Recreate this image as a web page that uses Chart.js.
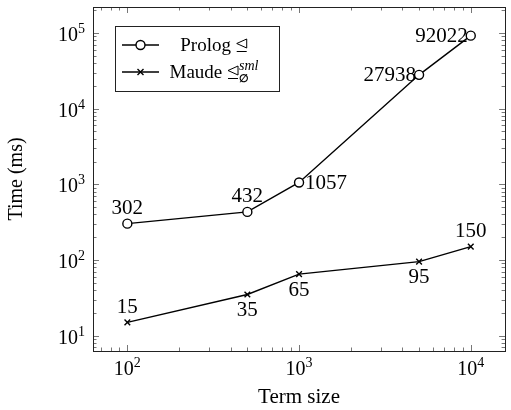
<!DOCTYPE html>
<html lang="en">
<head>
  <meta charset="UTF-8">
  <title>Term size vs time</title>
  <script src="https://cdn.jsdelivr.net/npm/chart.js"></script>
  <style>
    body { margin: 0; background: #fff; }
    #wrap { width: 511px; height: 410px; }
  </style>
</head>
<body>
  <div id="wrap"><canvas id="timeChart"></canvas></div>
  <script>
    // values
    const termSizes = [100, 500, 1000, 5000, 10000];
    const prologTimes = [302, 432, 1057, 27938, 92022];
    const maudeTimes = [15, 35, 65, 95, 150];

    const serif = "'Liberation Serif', 'DejaVu Serif', serif";

    // pgfplots style 10% enlargement in log space
    const allTimes = prologTimes.concat(maudeTimes);
    const lyMin = Math.log10(Math.min(...allTimes));
    const lyMax = Math.log10(Math.max(...allTimes));
    const yPad = (lyMax - lyMin) * 0.1;
    const lxMin = Math.log10(termSizes[0]);
    const lxMax = Math.log10(termSizes[termSizes.length - 1]);
    const xPad = (lxMax - lxMin) * 0.1;

    function isPow10(v) {
      const l = Math.log10(v);
      return Math.abs(l - Math.round(l)) < 1e-9;
    }

    // where each value label sits relative to its point
    const labelSides = [
      ['above', 'above', 'right', 'left', 'left'],
      ['above', 'below', 'below', 'below', 'above']
    ];

    const valueLabels = {
      id: 'valueLabels',
      afterDatasetsDraw(chart) {
        const ctx = chart.ctx;
        ctx.save();
        ctx.font = '21px ' + serif;
        ctx.fillStyle = '#000';
        ctx.textBaseline = 'middle';
        chart.data.datasets.forEach((ds, i) => {
          chart.getDatasetMeta(i).data.forEach((pt, j) => {
            const text = String(ds.data[j].y);
            const side = labelSides[i][j];
            if (side === 'above') {
              ctx.textAlign = 'center';
              ctx.fillText(text, pt.x, pt.y - 15);
            } else if (side === 'below') {
              ctx.textAlign = 'center';
              ctx.fillText(text, pt.x, pt.y + 16);
            } else if (side === 'right') {
              ctx.textAlign = 'left';
              ctx.fillText(text, pt.x + 6, pt.y + 1);
            } else {
              ctx.textAlign = 'right';
              ctx.fillText(text, pt.x - 3, pt.y + 1);
            }
          });
        });
        ctx.restore();
      }
    };

    // 10 with a raised exponent, drawn at the scale's major tick pixels
    function drawPow(ctx, e, x, y, align) {
      ctx.font = '20px ' + serif;
      const w1 = ctx.measureText('10').width;
      ctx.font = '14px ' + serif;
      const w2 = ctx.measureText(String(e)).width;
      let left = x;
      if (align === 'center') left = x - (w1 + w2) / 2;
      if (align === 'right') left = x - (w1 + w2);
      ctx.textAlign = 'left';
      ctx.textBaseline = 'alphabetic';
      ctx.font = '20px ' + serif;
      ctx.fillText('10', left, y);
      ctx.font = '14px ' + serif;
      ctx.fillText(String(e), left + w1, y - 8);
    }

    // box around the plot with inward ticks on all four sides, plus tick labels
    const frameTicks = {
      id: 'frameTicks',
      beforeDatasetsDraw(chart) {
        const ctx = chart.ctx;
        const a = chart.chartArea;
        const xs = chart.scales.x, ys = chart.scales.y;
        ctx.save();
        ctx.strokeStyle = '#777';
        ctx.lineWidth = 1;
        ctx.beginPath();
        for (let e = 0; e <= 6; e++) {
          for (let m = 1; m <= 9; m++) {
            const v = m * Math.pow(10, e);
            const len = m === 1 ? 6 : 3.5;
            if (v >= xs.min && v <= xs.max) {
              const px = Math.round(xs.getPixelForValue(v)) + 0.5;
              ctx.moveTo(px, a.bottom); ctx.lineTo(px, a.bottom - len);
              ctx.moveTo(px, a.top); ctx.lineTo(px, a.top + len);
            }
            if (v >= ys.min && v <= ys.max) {
              const py = Math.round(ys.getPixelForValue(v)) + 0.5;
              ctx.moveTo(a.left, py); ctx.lineTo(a.left + len, py);
              ctx.moveTo(a.right, py); ctx.lineTo(a.right - len, py);
            }
          }
        }
        ctx.stroke();
        ctx.strokeStyle = '#222';
        ctx.strokeRect(Math.round(a.left) + 0.5, Math.round(a.top) + 0.5,
          Math.round(a.right - a.left), Math.round(a.bottom - a.top));

        ctx.fillStyle = '#000';
        xs.ticks.forEach(t => {
          if (!isPow10(t.value)) return;
          const px = xs.getPixelForValue(t.value);
          drawPow(ctx, Math.round(Math.log10(t.value)), px, a.bottom + 24, 'center');
        });
        ys.ticks.forEach(t => {
          if (!isPow10(t.value)) return;
          const py = ys.getPixelForValue(t.value);
          drawPow(ctx, Math.round(Math.log10(t.value)), a.left - 8, py + 8, 'right');
        });
        ctx.restore();
      }
    };

    function drawRel(ctx, x, base) {
      // the "normal subgroup of or equal to" sign, drawn as strokes
      ctx.save();
      ctx.strokeStyle = '#000';
      ctx.lineWidth = 1;
      ctx.beginPath();
      ctx.moveTo(x + 11, base - 12);
      ctx.lineTo(x + 1, base - 7.5);
      ctx.lineTo(x + 11, base - 3);
      ctx.closePath();
      ctx.moveTo(x + 1, base + 0.5);
      ctx.lineTo(x + 11, base + 0.5);
      ctx.stroke();
      ctx.restore();
      return 12;
    }

    function drawMarker(ctx, kind, x, y) {
      ctx.beginPath();
      if (kind === 'circle') {
        ctx.arc(x, y, 4.5, 0, Math.PI * 2);
        ctx.fillStyle = '#fff';
        ctx.fill();
        ctx.stroke();
      } else {
        const r = 3;
        ctx.moveTo(x - r, y - r); ctx.lineTo(x + r, y + r);
        ctx.moveTo(x - r, y + r); ctx.lineTo(x + r, y - r);
        ctx.stroke();
      }
    }

    const boxLegend = {
      id: 'boxLegend',
      afterDraw(chart) {
        const ctx = chart.ctx;
        ctx.save();
        ctx.fillStyle = '#fff';
        ctx.fillRect(115, 26, 164, 65);
        ctx.strokeStyle = '#222';
        ctx.lineWidth = 1;
        ctx.strokeRect(115.5, 26.5, 164, 65);

        const rows = [45, 72];
        const kinds = ['circle', 'cross'];
        rows.forEach((ry, i) => {
          ctx.strokeStyle = '#000';
          ctx.lineWidth = 1.4;
          ctx.beginPath();
          ctx.moveTo(122, ry); ctx.lineTo(159, ry);
          ctx.stroke();
          drawMarker(ctx, kinds[i], 140.5, ry);
        });

        ctx.fillStyle = '#000';
        ctx.textBaseline = 'alphabetic';
        ctx.textAlign = 'left';
        const cx = 214;
        const relW = 12;
        // row 1
        ctx.font = '19px ' + serif;
        const n1 = 'Prolog ';
        const w1 = ctx.measureText(n1).width;
        let s = cx - (w1 + relW) / 2;
        ctx.fillText(n1, s, rows[0] + 6);
        drawRel(ctx, s + w1, rows[0] + 6);
        // row 2: name + relation with sub/superscript
        const n2 = 'Maude ';
        const w2 = ctx.measureText(n2).width;
        ctx.font = 'italic 14px ' + serif;
        const supW = ctx.measureText('sml').width;
        s = cx - (w2 + relW + supW) / 2;
        ctx.font = '19px ' + serif;
        ctx.fillText(n2, s, rows[1] + 6);
        drawRel(ctx, s + w2, rows[1] + 6);
        ctx.font = 'bold 11px ' + serif;
        ctx.fillText('∅', s + w2 + relW, rows[1] + 10);
        ctx.font = 'italic 14px ' + serif;
        ctx.fillText('sml', s + w2 + relW, rows[1] - 2);
        ctx.restore();
      }
    };

    const prologPoints = termSizes.map((x, i) => ({ x: x, y: prologTimes[i] }));
    const maudePoints = termSizes.map((x, i) => ({ x: x, y: maudeTimes[i] }));

    const ctx = document.getElementById('timeChart').getContext('2d');
    const timeChart = new Chart(ctx, {
      type: 'line',
      data: {
        datasets: [
          {
            label: 'Prolog ⊴',
            data: prologPoints,
            borderColor: '#000',
            borderWidth: 1.4,
            pointStyle: 'circle',
            pointRadius: 4.5,
            pointBorderWidth: 1.4,
            pointBackgroundColor: '#fff',
            pointBorderColor: '#000',
            tension: 0,
            fill: false
          },
          {
            label: 'Maude ⊴∅sml',
            data: maudePoints,
            borderColor: '#000',
            borderWidth: 1.4,
            pointStyle: 'crossRot',
            pointRadius: 4,
            pointBorderWidth: 1.4,
            pointBorderColor: '#000',
            tension: 0,
            fill: false
          }
        ]
      },
      options: {
        responsive: true,
        maintainAspectRatio: false,
        animation: false,
        layout: { padding: { top: 7, right: 2, left: 0, bottom: 0 } },
        plugins: {
          legend: { display: false },
          tooltip: { enabled: false }
        },
        scales: {
          x: {
            type: 'logarithmic',
            min: Math.pow(10, lxMin - xPad),
            max: Math.pow(10, lxMax + xPad),
            grid: { display: false },
            border: { display: false },
            afterFit: s => {
              s.height = 59;
              s.paddingLeft = 0; s.paddingRight = 0;
            },
            ticks: {
              autoSkip: false,
              maxRotation: 0,
              callback: () => ''
            },
            title: {
              display: true,
              text: 'Term size',
              color: '#000',
              font: { family: serif, size: 21 },
              padding: { top: 0, bottom: 0 }
            }
          },
          y: {
            type: 'logarithmic',
            min: Math.pow(10, lyMin - yPad),
            max: Math.pow(10, lyMax + yPad),
            grid: { display: false },
            border: { display: false },
            afterFit: s => {
              s.width = 93;
              s.paddingTop = 0; s.paddingBottom = 0;
            },
            ticks: {
              autoSkip: false,
              callback: () => ''
            },
            title: {
              display: true,
              text: 'Time (ms)',
              color: '#000',
              font: { family: serif, size: 20 },
              padding: { top: 5, bottom: 0 }
            }
          }
        }
      },
      plugins: [frameTicks, valueLabels, boxLegend]
    });
  </script>
</body>
</html>
